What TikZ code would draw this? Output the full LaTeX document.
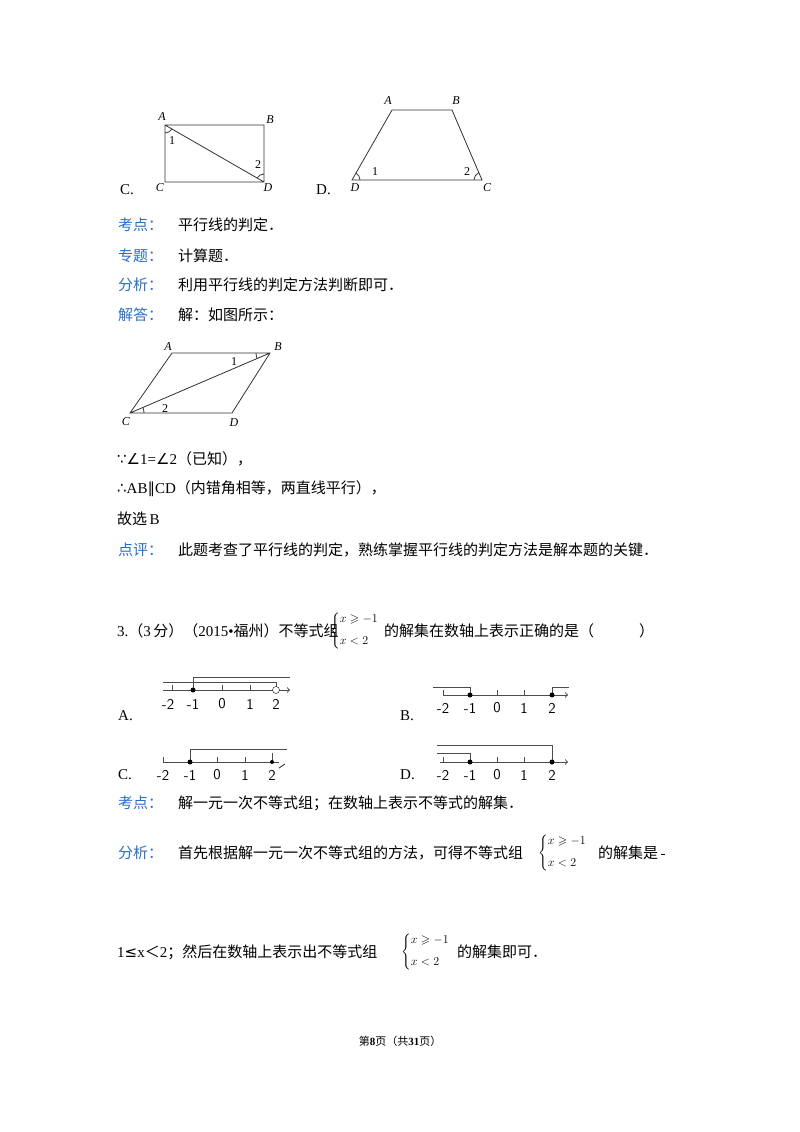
\documentclass[tikz,border=0pt]{standalone}
\usepackage{amsmath,amssymb}
\usepackage{fontspec}
\setmainfont{Liberation Serif}
\newfontfamily\cjk{Noto Sans CJK SC}
\newfontfamily\symf{DejaVu Sans}
\definecolor{lblue}{RGB}{40,110,200}
\tikzset{x=1pt,y=-1pt,
 txt/.style={anchor=west,inner sep=0pt,font=\fontsize{15}{18}\selectfont},
 lbl/.style={inner sep=0pt,font=\fontsize{12}{14}\selectfont\itshape},
 num/.style={inner sep=0pt,font=\fontsize{15}{16}\selectfont\sffamily},
 geo/.style={line width=0.8pt,black!80},
 ax/.style={line width=1pt,black!70},
 dot/.style={circle,fill=black,inner sep=0pt,minimum size=5pt}}
\newcommand{\sysb}{{\fontsize{12}{13}\selectfont$\left\{\begin{array}{@{}l@{}}x\geqslant-1\\[9pt] x<2\end{array}\right.$}}
\begin{document}
\begin{tikzpicture}
\useasboundingbox (0,0) rectangle (800,1132);
% Figure C
\coordinate (cA) at (165,125); \coordinate (cB) at (264,125);
\coordinate (cC) at (165,182); \coordinate (cD) at (264,182);
\draw[geo] (cA)--(cB)--(cD)--(cC)--cycle (cA)--(cD);
\draw[geo] (165,133) arc (90:30:8);
\draw[geo] (264,174) arc (-90:-150:8);
\node[lbl] (la) at (162,117) {A}; \node[lbl] (lb) at (270,120) {B};
\node[lbl] (lc) at (160,188) {C}; \node[lbl] (ld) at (268,188) {D};
\node[lbl,font=\fontsize{12}{14}\selectfont] (l1) at (172,141) {1};
\node[lbl,font=\fontsize{12}{14}\selectfont] (l2) at (258,165) {2};
\node[txt] (oc) at (120,190) {C.};
% Figure D
\coordinate (dA) at (392,110); \coordinate (dB) at (452,110);
\coordinate (dD) at (352,180); \coordinate (dC) at (482,180);
\draw[geo] (dA)--(dB)--(dC)--(dD)--cycle;
\draw[geo] (360,180) arc (0:-60:8);
\draw[geo] (474,180) arc (180:247:8);
\node[lbl] (da) at (388,101) {A}; \node[lbl] (db) at (456,101) {B};
\node[lbl] (dd) at (355,188) {D}; \node[lbl] (dc) at (487,188) {C};
\node[lbl,font=\fontsize{12}{14}\selectfont] (d1) at (375,172) {1};
\node[lbl,font=\fontsize{12}{14}\selectfont] (d2) at (467,172) {2};
\node[txt] (od) at (316,190) {D.};
% text
\node[txt,text=lblue] (k1) at (118,225) {\cjk 考点：};
\node[txt] (k1t) at (178,225) {\cjk 平行线的判定．};
\node[txt,text=lblue] (k2) at (118,256) {\cjk 专题：};
\node[txt] (k2t) at (178,256) {\cjk 计算题．};
\node[txt,text=lblue] (k3) at (118,285) {\cjk 分析：};
\node[txt] (k3t) at (178,285) {\cjk 利用平行线的判定方法判断即可．};
\node[txt,text=lblue] (k4) at (118,315) {\cjk 解答：};
\node[txt] (k4t) at (178,315) {\cjk 解：如图所示：};
% parallelogram
\coordinate (pA) at (172,353); \coordinate (pB) at (270,353);
\coordinate (pC) at (130,413); \coordinate (pD) at (232,413);
\draw[geo] (pA)--(pB)--(pD)--(pC)--cycle (pC)--(pB);
\draw[geo] (256,353) arc (180:157:14);
\draw[geo] (144,413) arc (0:-23:14);
\node[lbl] (pa) at (168,347) {A}; \node[lbl] (pb) at (278,347) {B};
\node[lbl] (pc) at (126,422) {C}; \node[lbl] (pd) at (234,423) {D};
\node[lbl,font=\fontsize{12}{14}\selectfont] (p1) at (234,362) {1};
\node[lbl,font=\fontsize{12}{14}\selectfont] (p2) at (165,409) {2};
\node[txt] (s1) at (117,459) {{\symf ∵∠}1={\symf ∠}2{\cjk （已知），}};
\node[txt] (s2) at (117,489) {{\symf ∴}AB{\symf ∥}CD{\cjk （内错角相等，两直线平行），}};
\node[txt] (s3) at (117,519) {{\cjk 故选}\,B};
\node[txt,text=lblue] (k5) at (118,550) {\cjk 点评：};
\node[txt] (k5t) at (178,550) {\cjk 此题考查了平行线的判定，熟练掌握平行线的判定方法是解本题的关键．};
% question 3
\node[txt] (q3) at (117,631) {3.{\cjk （}3\,{\cjk 分）（}2015•{\cjk 福州）不等式组}};
\node[anchor=west,inner sep=0pt] (q3b) at (330,631) {\sysb};
\node[txt] (q3c) at (384,631) {\cjk 的解集在数轴上表示正确的是（\hspace{3em}）};
% Number line A
\draw[ax,->] (163,690)--(290,690);
\foreach \x in {172,193,222,250,276}{\draw[ax] (\x,690)--(\x,685);}
\draw[ax] (193,690)--(193,677)--(290,677);
\draw[ax] (163,682)--(276,682)--(276,686);
\node[dot] (aD) at (193,690) {};
\node[circle,draw,fill=white,inner sep=0pt,minimum size=7pt] (aO) at (276,690) {};
\node[num] (a1) at (168,704) {-2}; \node[num] (a2) at (193,704) {-1};
\node[num] (a3) at (222,704) {0}; \node[num] (a4) at (250,704) {1}; \node[num] (a5) at (276,704) {2};
\node[txt] (oA) at (118,716) {A.};
% Number line B
\draw[ax,->] (443,695)--(568,695);
\foreach \x in {443,470,497,524,552}{\draw[ax] (\x,695)--(\x,690);}
\draw[ax] (433,687)--(470,687)--(470,695);
\draw[ax] (552,695)--(552,687)--(569,687);
\node[dot] (bD1) at (470,695) {}; \node[dot] (bD2) at (552,695) {};
\node[num] (b1) at (443,708) {-2}; \node[num] (b2) at (470,708) {-1};
\node[num] (b3) at (497,708) {0}; \node[num] (b4) at (524,708) {1}; \node[num] (b5) at (552,708) {2};
\node[txt] (oB) at (400,716) {B.};
% Number line C
\draw[ax] (163,762)--(279,762);
\foreach \x in {163,190,217,245,272}{\draw[ax] (\x,762)--(\x,757);}
\draw[ax] (190,762)--(190,749)--(287,749);
\draw[ax] (272,753)--(272,762);
\draw[ax] (279,768)--(285,764);
\node[dot] (cD1) at (190,762) {}; \node[dot,minimum size=4pt] (cD2) at (272,762) {};
\node[num] (c1) at (163,775) {-2}; \node[num] (c2) at (190,775) {-1};
\node[num] (c3) at (217,775) {0}; \node[num] (c4) at (245,775) {1}; \node[num] (c5) at (272,775) {2};
\node[txt] (oC) at (118,775) {C.};
% Number line D
\draw[ax,->] (440,762)--(568,762);
\foreach \x in {443,470,497,524,552}{\draw[ax] (\x,762)--(\x,757);}
\draw[ax] (437,745)--(552,745)--(552,762);
\draw[ax] (437,753)--(470,753)--(470,762);
\node[dot] (dD1) at (470,762) {}; \node[dot] (dD2) at (552,762) {};
\node[num] (e1) at (443,775) {-2}; \node[num] (e2) at (470,775) {-1};
\node[num] (e3) at (497,775) {0}; \node[num] (e4) at (524,775) {1}; \node[num] (e5) at (552,775) {2};
\node[txt] (oD) at (400,775) {D.};
% analysis
\node[txt,text=lblue] (k6) at (118,803) {\cjk 考点：};
\node[txt] (k6t) at (178,803) {\cjk 解一元一次不等式组；在数轴上表示不等式的解集．};
\node[txt,text=lblue] (k7) at (118,853) {\cjk 分析：};
\node[txt] (k7t) at (178,853) {\cjk 首先根据解一元一次不等式组的方法，可得不等式组};
\node[anchor=west,inner sep=0pt] (k7b) at (538,853) {\sysb};
\node[txt] (k7c) at (598,853) {{\cjk 的解集是}\,-};
\node[txt] (k8) at (117,952) {1{\symf ≤}x{\cjk ＜}2{\cjk ；然后在数轴上表示出不等式组}};
\node[anchor=west,inner sep=0pt] (k8b) at (401,952) {\sysb};
\node[txt] (k8c) at (457,952) {\cjk 的解集即可．};
% footer
\node[inner sep=0pt,font=\fontsize{11}{12}\selectfont] (ft) at (400,1041) {{\cjk 第}\textbf{8}{\cjk 页（共}\textbf{31}{\cjk 页）}};
\end{tikzpicture}
\end{document}
